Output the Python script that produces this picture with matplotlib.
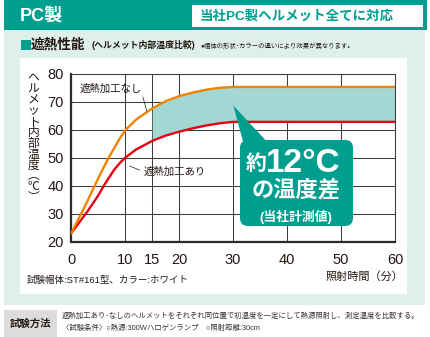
import matplotlib.pyplot as plt
from matplotlib.patches import Rectangle, FancyBboxPatch, Polygon

plt.rcParams['font.family'] = ['Liberation Sans', 'Noto Sans CJK JP']

# 照射時間(分) とヘルメット内部温度(℃)
minutes = [0, 1, 2, 3, 4, 5, 6, 7, 8, 9, 10, 12, 15, 17.5, 20, 22.5, 25, 27.5, 30, 40, 50, 60]
temp_untreated = [23, 26.8, 30.6, 34.5, 38.6, 42.6, 46.5, 50.2, 53.6, 56.9, 59.8,
                  63.6, 67.6, 70.2, 72.0, 73.3, 74.3, 75.0, 75.3, 75.3, 75.3, 75.3]
temp_treated = [23, 25.6, 28.2, 30.8, 33.6, 36.5, 39.9, 42.9, 45.8, 48.1, 50.0,
                52.9, 56.0, 57.9, 59.3, 60.5, 61.5, 62.3, 62.8, 62.8, 62.8, 62.8]
x_ticks = [0, 10, 15, 20, 30, 40, 50, 60]
y_ticks = [20, 30, 40, 50, 60, 70, 80]
shade_from = 15

ylabel_chars = ['ヘ', 'ル', 'メ', 'ッ', 'ト', '内', '部', '温', '度', '︵', '℃', '︶']

TEAL = '#009e8f'
PALE = '#dff0ea'
ORANGE = '#f08300'
RED = '#e60012'
INK = '#231815'

W, H = 430, 337
fig = plt.figure(figsize=(W / 100, H / 100), dpi=100)

# background layer in pixel units
bg = fig.add_axes([0, 0, 1, 1], zorder=0)
bg.set_xlim(0, W)
bg.set_ylim(H, 0)
bg.axis('off')

bg.add_patch(Rectangle((4, 0), 423, 30, color=TEAL, lw=0))
bg.add_patch(Rectangle((192, 5), 231, 22, facecolor='white', edgecolor='none'))
bg.add_patch(Rectangle((4, 30), 421, 275, color=PALE, lw=0))
bg.add_patch(Rectangle((20, 58), 387, 236, color='white', lw=0))
bg.add_patch(Rectangle((4, 310), 53, 27, color='#dcdcdc', lw=0))

bg.text(20, 15.5, 'PC製', color='white', fontsize=13, fontweight='bold', va='center')
bg.text(297, 16, '当社PC製ヘルメット全てに対応', color=TEAL, fontsize=9.7,
        fontweight='bold', ha='center', va='center')

bg.add_patch(Rectangle((21, 39.5), 9.5, 10.5, color=TEAL, lw=0))
bg.text(31, 45, '遮熱性能', color=INK, fontsize=9.8, fontweight='bold', va='center')
bg.text(91, 45.5, '(ヘルメット内部温度比較)', color=INK, fontsize=6.4,
        fontweight='bold', va='center')
bg.text(200, 46, '●帽体の形状･カラーの違いにより効果が異なります。', color=INK,
        fontsize=4.6, va='center')

bg.text(27, 280, '試験帽体:ST#161型、カラー:ホワイト', color=INK, fontsize=6.8, va='center')
bg.text(403, 277, '照射時間（分）', color=INK, fontsize=8, ha='right', va='center')

bg.text(30.5, 324, '試験方法', color=INK, fontsize=7.5, fontweight='bold',
        ha='center', va='center')
bg.text(62, 316.5, '遮熱加工あり･なしのヘルメットをそれぞれ同位置で初温度を一定にして熱源照射し、測定温度を比較する。',
        color='#333333', fontsize=5.3, va='center')
bg.text(62, 328.5, '〈試験条件〉○熱源:300Wハロゲンランプ　○照射距離:30cm',
        color='#333333', fontsize=5.3, va='center')

# vertical axis title, one glyph per row
for i, ch in enumerate(ylabel_chars):
    bg.text(33.5, 79 + i * 10.8, ch, color=INK, fontsize=8.5, ha='center', va='center')

# chart
x0, x1, y0, y1 = 71.3, 395, 73.8, 241.5
ax = fig.add_axes([x0 / W, 1 - y1 / H, (x1 - x0) / W, (y1 - y0) / H], zorder=2)
ax.patch.set_alpha(0)
ax.set_xlim(0, 60)
ax.set_ylim(20, 80)
ax.set_xticks(x_ticks)
ax.set_yticks(y_ticks)
ax.tick_params(length=0, labelsize=10.5, labelcolor=INK)
ax.tick_params(axis='x', pad=8)
ax.tick_params(axis='y', pad=5.5)
ax.grid(True, color='#3c3c3c', lw=0.75)
ax.set_axisbelow(True)
for side in ['top', 'right']:
    ax.spines[side].set_color('#3c3c3c')
    ax.spines[side].set_linewidth(0.75)
for side in ['left', 'bottom']:
    ax.spines[side].set_color('#2b2b2b')
    ax.spines[side].set_linewidth(1.6)

ax.fill_between(minutes, temp_treated, temp_untreated,
                where=[m >= shade_from for m in minutes],
                color='#a2d7d4', lw=0, zorder=1.5)
ax.plot(minutes, temp_treated, color=RED, lw=1.7, zorder=3)
ax.plot(minutes, temp_untreated, color=ORANGE, lw=1.7, zorder=3)

ax.annotate('遮熱加工なし', xy=(14.0, 66.6), xytext=(1.6, 74.5),
            fontsize=7.5, color=INK, va='center', ha='left',
            arrowprops=dict(arrowstyle='-', color=INK, lw=0.5,
                            shrinkA=0, shrinkB=0, relpos=(1, 0)))
ax.annotate('遮熱加工あり', xy=(10.8, 47.0), xytext=(13.4, 45.0),
            fontsize=7.5, color=INK, va='center', ha='left',
            arrowprops=dict(arrowstyle='-', color=INK, lw=0.5,
                            shrinkA=1, shrinkB=0, relpos=(0, 0.5)))

# callout on top
ov = fig.add_axes([0, 0, 1, 1], zorder=4)
ov.set_xlim(0, W)
ov.set_ylim(H, 0)
ov.axis('off')
ov.add_patch(Polygon([(233.3, 105.5), (244, 145), (270, 145)], closed=True,
                     color=TEAL, lw=0))
ov.add_patch(FancyBboxPatch((240, 140), 113, 86,
                            boxstyle='round,pad=0,rounding_size=8',
                            color=TEAL, lw=0))
ov.text(256, 164, '約', color='white', fontsize=15, fontweight='bold',
        ha='center', va='center')
ov.text(266, 163, '12°C', color='white', fontsize=24, fontweight='bold',
        ha='left', va='center', family='Liberation Sans')
ov.text(296.5, 191, 'の温度差', color='white', fontsize=16, fontweight='bold',
        ha='center', va='center')
ov.text(296, 216.5, '(当社計測値)', color='white', fontsize=9.3, fontweight='bold',
        ha='center', va='center')

fig.savefig('out.png', dpi=100)
